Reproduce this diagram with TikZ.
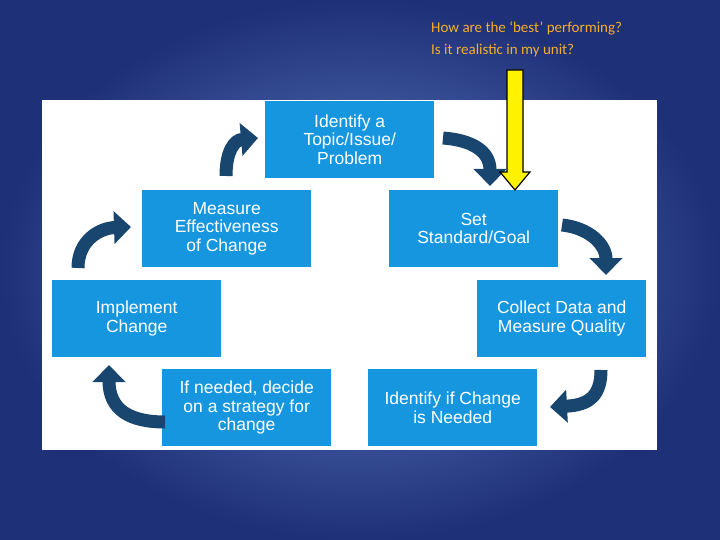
\documentclass[tikz,border=0pt]{standalone}
\usepackage{fontspec}
\setmainfont{Liberation Sans}
\newfontfamily\calib{Carlito}
\usetikzlibrary{arrows.meta}
\definecolor{boxblue}{RGB}{22,150,222}
\definecolor{navy}{RGB}{25,70,110}
\definecolor{bgin}{RGB}{100,130,200}
\definecolor{bgout}{RGB}{30,48,120}
\definecolor{orangetxt}{RGB}{245,175,40}
\begin{document}
\begin{tikzpicture}[x=1pt,y=-1pt,
  box/.style={fill=boxblue,draw=none,minimum width=169pt,minimum height=77pt,inner sep=0pt,
    text=white,font=\fontsize{17.5}{18.5}\selectfont,align=center,anchor=north west},
  cyc/.style={navy,line width=13pt,-{Triangle[length=17pt,width=32pt]}},
  yel/.style={fill=yellow,draw=black,line width=1.2pt}]
\useasboundingbox (0,0) rectangle (720,540);
\shade[inner color=bgin,outer color=bgout] (0,0) rectangle (720,540);
\fill[white] (42,100) rectangle (657,450);
\node[box] (top) at (265,101) {Identify a\\Topic/Issue/\\Problem};
\node[box] (set) at (389,190) {Set\\Standard/Goal};
\node[box] (col) at (477,280) {Collect Data and\\Measure Quality};
\node[box] (idc) at (368,369) {Identify if Change\\is Needed};
\node[box] (dec) at (162,369) {If needed, decide\\on a strategy for\\change};
\node[box] (imp) at (52,280) {Implement\\Change};
\node[box] (mea) at (142,190) {Measure\\Effectiveness\\of Change};
\coordinate (a1s) at (226,176); \coordinate (a1e) at (258,138);
\coordinate (a2s) at (443,138); \coordinate (a2e) at (490,186);
\coordinate (a3s) at (562,225); \coordinate (a3e) at (606,275);
\coordinate (a4s) at (601,370); \coordinate (a4e) at (550,407);
\coordinate (a5s) at (165,422); \coordinate (a5e) at (109,365);
\coordinate (a6s) at (78,268); \coordinate (a6e) at (131,227);
\draw[cyc] (a1s) .. controls (226,150) and (235,140) .. (a1e);
\draw[cyc] (a2s) .. controls (470,140) and (490,150) .. (a2e);
\draw[cyc] (a3s) .. controls (590,228) and (606,245) .. (a3e);
\draw[cyc] (a4s) .. controls (601,395) and (590,405) .. (a4e);
\draw[cyc] (a5s) .. controls (130,422) and (109,410) .. (a5e);
\draw[cyc] (a6s) .. controls (78,240) and (100,228) .. (a6e);
\fill[yel] (507,70) -- (523,70) -- (523,172) -- (530,172) -- (515,190) -- (500,172) -- (507,172) -- cycle;
\node[anchor=north west,text=orangetxt,font=\calib\fontsize{15}{22}\selectfont,align=left,inner sep=0pt] (q) at (431,21) {How are the ‘best’ performing?\\Is it realistic in my unit?};
\end{tikzpicture}
\end{document}
